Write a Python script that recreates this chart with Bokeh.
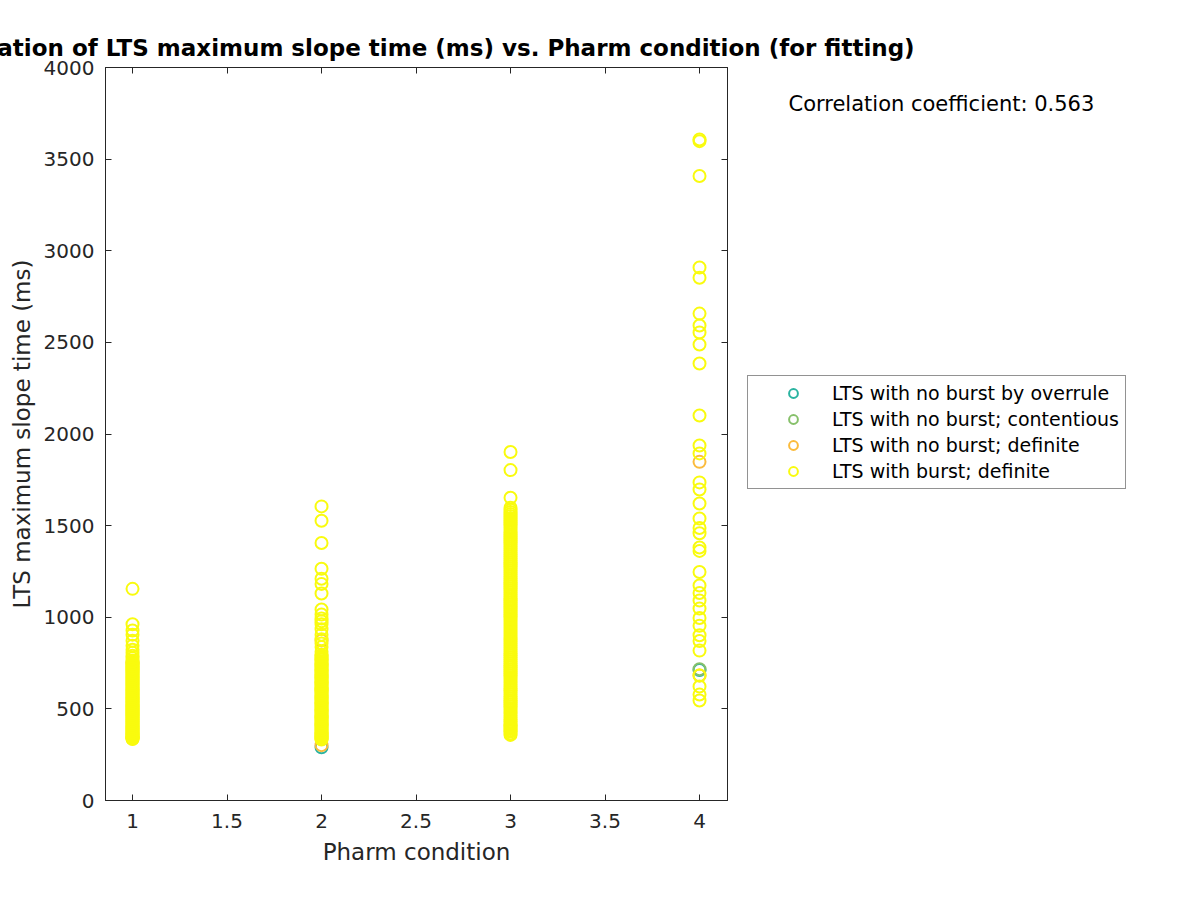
from bokeh.plotting import figure
from bokeh.layouts import row
from bokeh.models import LinearAxis, Range1d, Legend, LegendItem, Label, FixedTicker
from bokeh.embed import file_html
from bokeh.resources import INLINE

# ---- data ----
x_ticks = [1, 1.5, 2, 2.5, 3, 3.5, 4]
x_tick_labels = ["1", "1.5", "2", "2.5", "3", "3.5", "4"]
y_ticks = [0, 500, 1000, 1500, 2000, 2500, 3000, 3500, 4000]

burst_c1 = [1155, 962, 928, 905, 872, 845, 823, 806, 790, 776, 763, 750, 741, 728, 716, 705, 693,
            681, 670, 659, 648, 637, 626, 615, 604, 594, 583, 572, 561, 551, 540, 529, 518, 508,
            497, 486, 475, 464, 453, 442, 431, 420, 409, 398, 388, 377, 366, 356, 347, 340, 335,
            338, 344, 351, 361, 371, 382, 393, 403, 414, 425, 436, 447, 458, 469, 480, 491, 502,
            513, 523, 534, 545, 556, 566, 577, 588, 599, 609, 620, 631, 642, 653, 664, 675, 687,
            698, 710, 722, 734, 745, 757]
burst_c2 = [1605, 1527, 1405, 1265, 1210, 1182, 1130, 1042, 1015, 993, 978, 962, 935, 905, 880,
            857, 838, 812, 795, 781, 768, 752, 739, 726, 712, 699, 685, 672, 660, 647, 634, 621,
            608, 596, 583, 570, 557, 545, 532, 519, 506, 494, 481, 468, 455, 443, 430, 418, 405,
            392, 380, 368, 356, 345, 336,
            333, 340, 350, 362, 374, 386, 399, 411, 424, 436, 449, 461, 474, 487, 500, 512, 525,
            538, 551, 563, 576, 589, 602, 614, 627, 640, 653, 666, 678, 692, 705, 719, 732, 745,
            760, 774, 788]
burst_c3 = [1902, 1803, 1652, 1598, 1575, 1552, 1530, 1508, 1487, 1465, 1442, 1420, 1398, 1376,
            1354, 1332, 1310, 1289, 1267, 1245, 1223, 1201, 1180, 1158, 1136, 1114, 1093, 1071,
            1050, 1028, 1006, 985, 963, 942, 920, 898, 877, 856, 834, 812, 791, 770, 748, 727,
            706, 684, 663, 642, 621, 600, 578, 557, 536, 515, 494, 473, 452, 431, 412, 398, 382, 358,
            366, 376, 390, 405, 421, 441, 462, 483, 504, 525, 546, 567, 589, 610, 631, 652, 673,
            695, 716, 737, 759, 780, 801, 823, 845, 866, 887, 909, 931, 952, 974, 995, 1017, 1039,
            1060, 1082, 1103, 1125, 1147, 1169, 1190, 1212, 1234, 1256, 1278, 1299, 1321, 1343,
            1365, 1387, 1409, 1431, 1453, 1476, 1497, 1519, 1541, 1563, 1586]
burst_c4 = [3607, 3598, 3408, 2909, 2853, 2657, 2592, 2554, 2488, 2385, 2101, 1937, 1894, 1736,
            1697, 1621, 1539, 1487, 1458, 1381, 1362, 1247, 1173, 1132, 1091, 1048, 996, 954,
            902, 870, 818, 682, 622, 578, 546]

overrule_x = [2, 4]
overrule_y = [290, 712]
contentious_x = [4]
contentious_y = [716]
nob_def_x = [4, 4, 2, 2, 1]
nob_def_y = [1848, 682, 302, 873, 752]

burst_x = [1] * len(burst_c1) + [2] * len(burst_c2) + [3] * len(burst_c3) + [4] * len(burst_c4)
burst_y = burst_c1 + burst_c2 + burst_c3 + burst_c4

labels = ["LTS with no burst by overrule", "LTS with no burst; contentious",
          "LTS with no burst; definite", "LTS with burst; definite"]
colors = ["#2ab3a0", "#86c06a", "#fbbb3c", "#f9fb0e"]

title_text = "Correlation of LTS maximum slope time (ms) vs. Pharm condition (for fitting)"
corr_text = "Correlation coefficient: 0.563"

FONT = "DejaVu Sans"
TXT = "#262626"
TITLE_X = -82  # page x where the (overflowing) title starts

P1_W = 740


def style_title(fig, offset):
    fig.title.text = title_text
    fig.title.align = "left"
    fig.title.offset = offset
    fig.title.text_font = FONT
    fig.title.text_font_size = "23px"
    fig.title.text_font_style = "bold"
    fig.title.text_color = "black"
    fig.title.standoff = 14


def top_axis(ticks, color):
    return LinearAxis(ticker=FixedTicker(ticks=ticks), major_label_text_font_size="0px",
                      major_tick_in=6, major_tick_out=0, minor_tick_in=0, minor_tick_out=0,
                      axis_line_color=color, major_tick_line_color=color)


p = figure(width=P1_W, height=900, output_backend="svg", toolbar_location=None,
           x_range=Range1d(0.857, 4.148), y_range=Range1d(0, 4000),
           min_border_left=105, min_border_right=13, min_border_top=67, min_border_bottom=100,
           x_axis_label="Pharm condition", y_axis_label="LTS maximum slope time (ms)")
style_title(p, TITLE_X - 105)
p.background_fill_color = "white"
p.border_fill_color = "white"
p.grid.visible = False
p.outline_line_color = TXT
p.outline_line_width = 1

for ax in p.xaxis + p.yaxis:
    ax.major_tick_in = 6
    ax.major_tick_out = 0
    ax.minor_tick_in = 0
    ax.minor_tick_out = 0
    ax.axis_line_color = TXT
    ax.major_tick_line_color = TXT
    ax.major_label_text_font = FONT
    ax.major_label_text_font_size = "20px"
    ax.major_label_text_color = TXT
    ax.axis_label_text_font = FONT
    ax.axis_label_text_font_size = "23px"
    ax.axis_label_text_font_style = "normal"
    ax.axis_label_text_color = TXT

p.xaxis.ticker = FixedTicker(ticks=x_ticks)
p.xaxis.major_label_overrides = {t: l for t, l in zip(x_ticks, x_tick_labels)}
p.yaxis.ticker = FixedTicker(ticks=y_ticks)
p.xaxis.major_label_standoff = 13
p.yaxis.major_label_standoff = 11
p.xaxis.axis_label_standoff = 8
p.yaxis.axis_label_standoff = 6

p.add_layout(top_axis(x_ticks, TXT), "above")
right = LinearAxis(ticker=FixedTicker(ticks=y_ticks), major_label_text_font_size="0px",
                   major_tick_in=6, major_tick_out=0, minor_tick_in=0, minor_tick_out=0,
                   axis_line_color=TXT, major_tick_line_color=TXT)
p.add_layout(right, "right")

kw = dict(size=12, fill_color=None, line_width=2)
r0 = p.scatter(overrule_x, overrule_y, line_color=colors[0], **kw)
r1 = p.scatter(contentious_x, contentious_y, line_color=colors[1], **kw)
r2 = p.scatter(nob_def_x, nob_def_y, line_color=colors[2], **kw)
r3 = p.scatter(burst_x, burst_y, line_color=colors[3], **kw)

# side panel for legend, correlation text and the overflowing part of the title
p2 = figure(width=1200 - P1_W, height=900, output_backend="svg", toolbar_location=None,
            x_range=Range1d(P1_W, 1200), y_range=Range1d(800, 67),
            x_axis_location=None, y_axis_location=None,
            min_border_left=0, min_border_right=0, min_border_top=67, min_border_bottom=100)
style_title(p2, TITLE_X - P1_W)
p2.add_layout(top_axis([], None), "above")
p2.grid.visible = False
p2.outline_line_color = None
p2.background_fill_color = "white"
p2.border_fill_color = "white"

nan = float("nan")
dummies = [p2.scatter([nan], [nan], line_color=c, **kw) for c in colors]
legend = Legend(items=[LegendItem(label=l, renderers=[r]) for l, r in zip(labels, dummies)],
                location=(747 - P1_W, 800 - 489), label_text_font=FONT, label_text_font_size="19px",
                label_text_color="black", border_line_color=TXT, border_line_width=1,
                padding=6, spacing=4, label_height=22, glyph_height=22, glyph_width=78,
                label_standoff=0, margin=0, background_fill_alpha=1)
p2.add_layout(legend, "center")

p2.add_layout(Label(x=788, y=103, text=corr_text, text_font=FONT, text_font_size="21px",
                    text_color="black", text_baseline="middle"))

layout = row(p, p2, spacing=0)
open("out.html", "w").write(file_html(layout, INLINE))
